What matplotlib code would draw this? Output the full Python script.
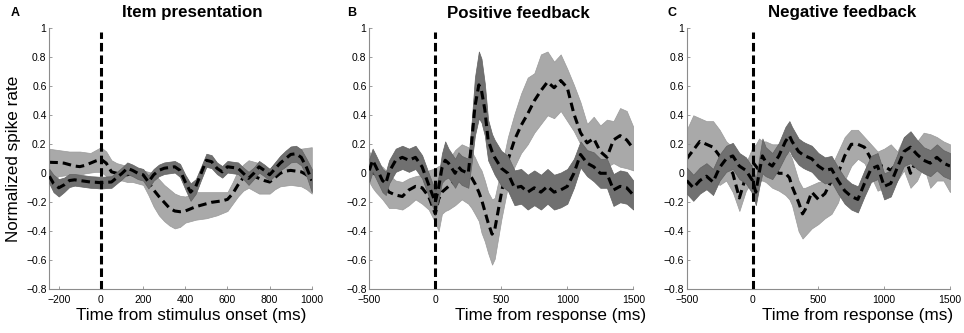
import matplotlib
matplotlib.use("Agg")
import matplotlib.pyplot as plt

plt.rcParams['font.family'] = ['Liberation Sans', 'DejaVu Sans']

# ---------------- Panel A: Item presentation ----------------
xA = [-245, -225, -200, -175, -150, -125, -100, -75, -50, -25, 0, 25, 50, 75, 100, 125, 150, 175, 200,
      225, 250, 275, 300, 325, 350, 375, 400, 425, 450, 475, 500, 525, 550, 575, 600, 625, 650, 675,
      700, 725, 750, 775, 800, 825, 850, 875, 900, 925, 950, 975, 1000]
A_light_mean = [0.076, 0.075, 0.074, 0.07, 0.06, 0.05, 0.046, 0.055, 0.07, 0.085, 0.097, 0.07, 0.01, 0.0,
                -0.01, -0.01, 0.0, -0.01, -0.02, -0.06, -0.115, -0.16, -0.2, -0.24, -0.26, -0.265, -0.26,
                -0.245, -0.23, -0.22, -0.21, -0.2, -0.195, -0.19, -0.18, -0.14, -0.08, -0.03, 0.0, -0.02,
                -0.035, -0.05, -0.06, -0.03, 0.0, 0.015, 0.02, 0.015, 0.01, -0.01, -0.06]
A_light_hi = [0.17, 0.165, 0.16, 0.155, 0.15, 0.15, 0.15, 0.145, 0.14, 0.16, 0.18, 0.15, 0.09, 0.07, 0.06,
              0.05, 0.04, 0.03, 0.02, 0.01, 0.0, -0.04, -0.08, -0.11, -0.14, -0.155, -0.16, -0.145, -0.13,
              -0.13, -0.13, -0.13, -0.13, -0.13, -0.13, -0.06, 0.02, 0.06, 0.09, 0.08, 0.07, 0.05, 0.03,
              0.07, 0.11, 0.13, 0.15, 0.16, 0.17, 0.175, 0.18]
A_light_lo = [-0.07, -0.04, -0.02, -0.015, -0.01, -0.01, -0.01, 0.0, 0.005, 0.01, 0.01, -0.02, -0.05,
              -0.05, -0.05, -0.06, -0.06, -0.07, -0.08, -0.15, -0.23, -0.29, -0.33, -0.36, -0.38, -0.37,
              -0.34, -0.33, -0.32, -0.315, -0.31, -0.3, -0.29, -0.275, -0.26, -0.21, -0.16, -0.12, -0.1,
              -0.12, -0.14, -0.14, -0.14, -0.11, -0.09, -0.085, -0.08, -0.085, -0.09, -0.11, -0.14]
A_dark_mean = [-0.02, -0.07, -0.1, -0.08, -0.05, -0.045, -0.05, -0.055, -0.06, -0.062, -0.065, -0.062,
               -0.06, -0.03, 0.0, 0.035, 0.02, 0.0, -0.01, -0.06, -0.01, 0.02, 0.035, 0.04, 0.045, 0.02,
               -0.06, -0.13, -0.09, 0.0, 0.09, 0.08, 0.035, 0.01, 0.045, 0.04, 0.035, 0.0, -0.035, 0.0,
               0.045, 0.02, -0.01, 0.03, 0.07, 0.1, 0.13, 0.135, 0.11, 0.04, -0.05]
A_dark_hw = [0.05, 0.06, 0.06, 0.05, 0.045, 0.04, 0.04, 0.04, 0.04, 0.04, 0.04, 0.04, 0.04, 0.04, 0.04,
             0.04, 0.04, 0.04, 0.04, 0.045, 0.04, 0.04, 0.04, 0.04, 0.04, 0.045, 0.05, 0.06, 0.05, 0.045,
             0.045, 0.045, 0.04, 0.04, 0.04, 0.04, 0.04, 0.04, 0.045, 0.04, 0.04, 0.04, 0.04, 0.045, 0.05,
             0.055, 0.055, 0.055, 0.055, 0.06, 0.08]

# ---------------- Panel B: Positive feedback ----------------
xB = [-500, -475, -450, -400, -375, -350, -300, -250, -200, -150, -100, -50, 0, 25, 50, 75, 100, 150, 175,
      200, 250, 275, 300, 330, 350, 375, 400, 430, 450, 500, 550, 600, 650, 700, 750, 800, 850, 900, 950,
      1000, 1050, 1100, 1150, 1200, 1250, 1300, 1350, 1400, 1450, 1500]
B_light_mean = [0.035, 0.01, -0.01, -0.06, -0.1, -0.13, -0.15, -0.16, -0.115, -0.09, -0.1, -0.16, -0.28,
                -0.18, -0.13, -0.11, -0.09, -0.05, -0.02, 0.01, 0.0, -0.03, -0.07, -0.13, -0.18, -0.26,
                -0.34, -0.42, -0.39, -0.14, 0.09, 0.23, 0.33, 0.41, 0.5, 0.57, 0.63, 0.59, 0.64, 0.59, 0.41,
                0.28, 0.21, 0.24, 0.15, 0.11, 0.23, 0.26, 0.23, 0.17]
B_light_hi = [0.15, 0.1, 0.07, 0.045, 0.02, -0.01, -0.05, -0.06, -0.035, -0.02, -0.01, 0.02, 0.035, 0.05,
              0.06, 0.075, 0.09, 0.16, 0.18, 0.2, 0.18, 0.15, 0.11, 0.05, 0.02, -0.05, -0.13, -0.18, -0.17,
              0.035, 0.25, 0.41, 0.55, 0.66, 0.69, 0.82, 0.84, 0.77, 0.82, 0.72, 0.61, 0.49, 0.34, 0.39,
              0.33, 0.37, 0.36, 0.45, 0.43, 0.32]
B_light_lo = [-0.06, -0.1, -0.13, -0.18, -0.21, -0.24, -0.24, -0.25, -0.22, -0.18, -0.21, -0.25, -0.34,
              -0.4, -0.28, -0.26, -0.25, -0.22, -0.2, -0.18, -0.21, -0.24, -0.28, -0.33, -0.41, -0.47,
              -0.55, -0.63, -0.59, -0.32, -0.09, 0.045, 0.14, 0.2, 0.28, 0.34, 0.4, 0.38, 0.43, 0.36, 0.29,
              0.2, 0.11, 0.1, 0.09, 0.045, 0.07, 0.045, 0.035, 0.02]
B_dark_mean = [0.02, 0.09, 0.045, -0.05, -0.07, 0.01, 0.09, 0.11, 0.09, 0.11, 0.045, -0.08, -0.2, -0.1,
               0.035, 0.09, 0.07, 0.0, 0.045, 0.02, 0.0, 0.21, 0.46, 0.61, 0.57, 0.44, 0.23, 0.15, 0.11,
               0.035, 0.0, -0.1, -0.09, -0.13, -0.1, -0.13, -0.09, -0.13, -0.115, -0.09, 0.0, 0.13, 0.07,
               0.045, 0.0, 0.0, -0.115, -0.09, -0.1, -0.15]
B_dark_hw = [0.08, 0.08, 0.08, 0.08, 0.08, 0.08, 0.08, 0.08, 0.08, 0.08, 0.08, 0.08, 0.08, 0.08, 0.1,
             0.13, 0.1, 0.1, 0.1, 0.1, 0.1, 0.14, 0.2, 0.23, 0.22, 0.18, 0.14, 0.12, 0.12, 0.12, 0.12,
             0.12, 0.12, 0.12, 0.12, 0.12, 0.12, 0.12, 0.12, 0.12, 0.1, 0.09, 0.09, 0.1, 0.1, 0.1, 0.11,
             0.11, 0.11, 0.1]

# ---------------- Panel C: Negative feedback ----------------
xC = [-500, -450, -400, -350, -300, -250, -200, -150, -100, -50, 0, 25, 50, 75, 100, 150, 200, 250, 280,
      300, 350, 380, 400, 450, 500, 550, 600, 650, 700, 750, 800, 850, 900, 950, 1000, 1050, 1100, 1150,
      1200, 1250, 1300, 1350, 1400, 1450, 1500]
C_light_mean = [0.1, 0.16, 0.22, 0.2, 0.18, 0.12, 0.06, 0.0, -0.17, -0.02, 0.08, 0.05, 0.02, 0.08, 0.11,
                0.04, 0.0, 0.0, -0.03, -0.09, -0.2, -0.28, -0.25, -0.13, -0.18, -0.14, -0.05, 0.0, 0.12,
                0.2, 0.2, 0.18, 0.1, 0.05, 0.05, 0.02, 0.07, 0.14, 0.0, 0.1, 0.18, 0.05, 0.08, 0.14, 0.05]
C_light_hi = [0.3, 0.4, 0.38, 0.36, 0.36, 0.3, 0.22, 0.18, 0.1, 0.07, 0.18, 0.2, 0.24, 0.22, 0.22, 0.2,
              0.2, 0.18, 0.14, 0.1, -0.05, -0.1, -0.1, -0.08, -0.06, -0.05, 0.05, 0.15, 0.25, 0.3, 0.3,
              0.25, 0.2, 0.15, 0.17, 0.2, 0.15, 0.25, 0.2, 0.22, 0.28, 0.27, 0.25, 0.22, 0.2]
C_light_lo = [-0.05, -0.08, 0.0, 0.02, -0.05, -0.08, -0.05, -0.13, -0.26, -0.12, -0.05, -0.05, -0.05,
              -0.05, -0.06, -0.1, -0.12, -0.15, -0.18, -0.22, -0.4, -0.45, -0.43, -0.38, -0.35, -0.31,
              -0.28, -0.2, -0.05, 0.05, 0.1, 0.07, -0.02, -0.12, -0.1, -0.12, -0.05, 0.02, -0.1, -0.05,
              0.05, -0.1, -0.05, -0.05, -0.13]
C_dark_mean = [-0.05, -0.1, -0.05, -0.02, -0.06, 0.04, 0.1, 0.12, 0.05, 0.02, -0.05, -0.13, 0.0, 0.12,
               0.08, 0.05, 0.12, 0.22, 0.26, 0.22, 0.15, 0.13, 0.12, 0.1, 0.05, 0.02, 0.03, -0.05, -0.12,
               -0.16, -0.18, -0.07, 0.03, 0.05, -0.09, -0.07, 0.04, 0.15, 0.18, 0.13, 0.09, 0.07, 0.11,
               0.07, 0.05]
C_dark_hw = [0.09, 0.09, 0.09, 0.09, 0.09, 0.09, 0.09, 0.09, 0.09, 0.09, 0.09, 0.09, 0.1, 0.12, 0.1, 0.09,
             0.09, 0.1, 0.1, 0.1, 0.09, 0.09, 0.09, 0.09, 0.09, 0.09, 0.09, 0.09, 0.09, 0.09, 0.09, 0.09,
             0.09, 0.09, 0.09, 0.09, 0.09, 0.1, 0.11, 0.1, 0.09, 0.09, 0.09, 0.09, 0.09]

titles = ["Item presentation", "Positive feedback", "Negative feedback"]
letters = ["A", "B", "C"]
xlabels = ["Time from stimulus onset (ms)", "Time from response (ms)", "Time from response (ms)"]
xlims = [(-245, 1000), (-500, 1500), (-500, 1500)]
xtick_sets = [[-200, 0, 200, 400, 600, 800, 1000], [-500, 0, 500, 1000, 1500], [-500, 0, 500, 1000, 1500]]
yticks = [-0.8, -0.6, -0.4, -0.2, 0, 0.2, 0.4, 0.6, 0.8, 1]
ytick_labels = ["\u22120.8", "\u22120.6", "\u22120.4", "\u22120.2", "0", "0.2", "0.4", "0.6", "0.8", "1"]

panels = [
    (xA, A_light_mean, A_light_lo, A_light_hi, A_dark_mean, A_dark_hw),
    (xB, B_light_mean, B_light_lo, B_light_hi, B_dark_mean, B_dark_hw),
    (xC, C_light_mean, C_light_lo, C_light_hi, C_dark_mean, C_dark_hw),
]

W, H = 964, 333
fig = plt.figure(figsize=(W / 100, H / 100), dpi=100)
lefts = [49.3, 369.3, 686.7]
widths = [262.5, 264.0, 263.3]
ax_bottom = (H - 289.3) / H
ax_height = (289.3 - 28.3) / H
label_x = [0.54, 0.685, 0.65]
title_x = [192, 518, 842]
letter_x = [15, 352, 672]

LIGHT = '#a9a9a9'
DARK = '#707070'
AXC = '#8c8c8c'

for i, (x, lm, llo, lhi, dm, dhw) in enumerate(panels):
    ax = fig.add_axes([lefts[i] / W, ax_bottom, widths[i] / W, ax_height])
    dlo = [m - h for m, h in zip(dm, dhw)]
    dhi = [m + h for m, h in zip(dm, dhw)]
    ax.fill_between(x, llo, lhi, facecolor=LIGHT, edgecolor='#9a9a9a', linewidth=0.5, zorder=1)
    ax.plot(x, lm, color='black', linewidth=2.2, dashes=(2.8, 1.6), zorder=2)
    ax.fill_between(x, dlo, dhi, facecolor=DARK, edgecolor='#626262', linewidth=0.5, zorder=3)
    ax.plot(x, dm, color='black', linewidth=2.2, dashes=(2.8, 1.6), zorder=4)
    ax.plot([0, 0], [-0.8, 0.975], color='black', linewidth=2.2, dashes=(2.8, 1.3), zorder=5)

    ax.set_xlim(*xlims[i])
    ax.set_ylim(-0.8, 1.0)
    ax.set_xticks(xtick_sets[i])
    ax.set_xticklabels([str(t).replace('-', '\u2212') for t in xtick_sets[i]])
    ax.set_yticks(yticks)
    ax.set_yticklabels(ytick_labels)
    for s in ['top', 'right']:
        ax.spines[s].set_visible(False)
    for s in ['left', 'bottom']:
        ax.spines[s].set_color(AXC)
        ax.spines[s].set_linewidth(0.8)
    ax.tick_params(direction='in', length=2.5, width=0.6, color=AXC, labelsize=7.5,
                   labelcolor='black')
    ax.tick_params(axis='y', pad=2)
    ax.tick_params(axis='x', pad=4)
    ax.set_xlabel(xlabels[i], fontsize=12.3)
    ax.xaxis.set_label_coords(label_x[i], -0.072)
    if i == 0:
        ax.set_ylabel("Normalized spike rate", fontsize=12.3)
        ax.yaxis.set_label_coords(-0.108, 0.5)
    fig.text(title_x[i] / W, 1 - 13 / H, titles[i], fontsize=12.2, fontweight='bold',
             ha='center', va='center')
    fig.text(letter_x[i] / W, 1 - 13 / H, letters[i], fontsize=9, fontweight='bold',
             ha='center', va='center')

fig.savefig("out.png", dpi=100)
